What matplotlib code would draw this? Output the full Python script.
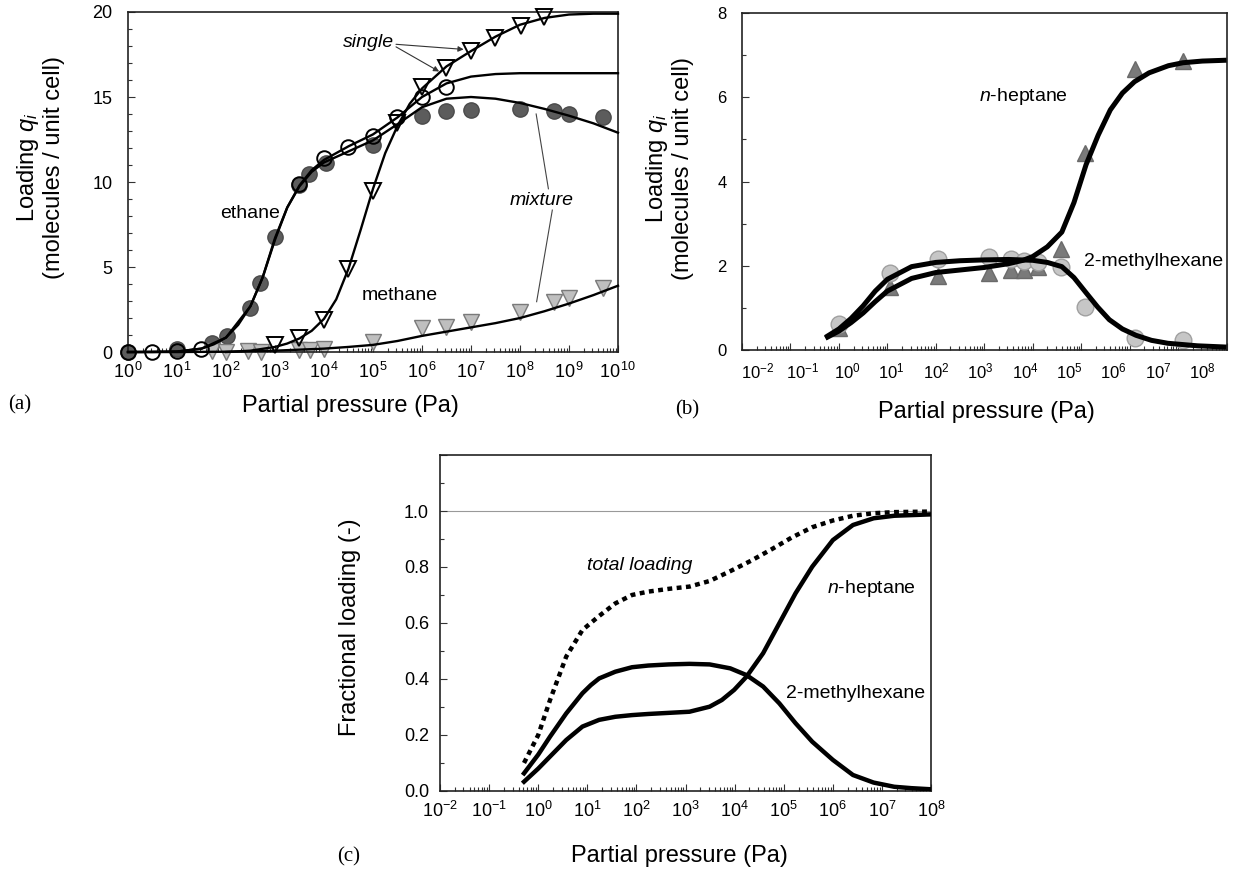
import numpy as np
import matplotlib
matplotlib.use('Agg')
import matplotlib.pyplot as plt
import matplotlib.transforms as mtransforms
from matplotlib.ticker import LogLocator, NullFormatter, FuncFormatter, MultipleLocator

plt.rcParams['font.family'] = ['Liberation Sans', 'DejaVu Sans']
plt.rcParams['mathtext.fontset'] = 'custom'
plt.rcParams['mathtext.rm'] = 'Liberation Sans'
plt.rcParams['mathtext.it'] = 'Liberation Sans:italic'
plt.rcParams['mathtext.bf'] = 'Liberation Sans:bold'

# ---------------- Panel (a): ethane / methane (log10 of pressure in Pa) ----------------
eth_single_logp = [0, 0.5, 1.0, 1.48, 3.48, 4.0, 4.48, 5.0, 5.48, 6.0, 6.48]
eth_single_q = [0, 0, 0.05, 0.2, 9.9, 11.4, 12.05, 12.7, 13.8, 15.0, 15.6]
eth_mix_logp = [0, 1.0, 1.71, 2.02, 2.5, 2.7, 3.0, 3.48, 3.7, 4.05, 5.0, 6.0, 6.5, 7.0, 8.0, 8.7, 9.0, 9.7]
eth_mix_q = [0, 0.15, 0.55, 0.95, 2.6, 4.05, 6.75, 9.8, 10.5, 11.1, 12.2, 13.9, 14.2, 14.25, 14.3, 14.15, 14.0, 13.85]
meth_single_logp = [3.0, 3.48, 4.0, 4.48, 5.0, 5.48, 6.0, 6.48, 7.0, 7.48, 8.02, 8.5]
meth_single_q = [0.4, 0.8, 1.9, 4.9, 9.5, 13.5, 15.6, 16.7, 17.7, 18.45, 19.2, 19.7]
meth_mix_logp = [1.71, 2.0, 2.45, 2.71, 3.48, 3.71, 4.0, 5.0, 6.0, 6.5, 7.0, 8.0, 8.7, 9.0, 9.7]
meth_mix_q = [0.05, 0.0, 0.05, 0.0, 0.1, 0.1, 0.15, 0.6, 1.4, 1.5, 1.75, 2.35, 2.95, 3.15, 3.75]

eth_single_curve_logp = [0, 0.5, 1, 1.5, 1.75, 2, 2.25, 2.5, 2.75, 3, 3.25, 3.5, 3.75, 4, 4.5, 5, 5.5, 6, 6.5, 7, 7.5, 8, 9, 10]
eth_single_curve_q = [0, 0, 0.03, 0.2, 0.45, 0.85, 1.6, 2.7, 4.4, 6.7, 8.5, 9.8, 10.7, 11.3, 12.1, 12.8, 13.8, 15.0, 15.8, 16.2, 16.35, 16.4, 16.4, 16.4]
eth_mix_curve_logp = [0, 1, 1.5, 2, 2.5, 2.75, 3, 3.25, 3.5, 3.75, 4, 4.5, 5, 5.5, 6, 6.5, 7, 7.5, 8, 8.5, 9, 9.5, 10]
eth_mix_curve_q = [0, 0.03, 0.2, 0.85, 2.7, 4.4, 6.6, 8.5, 9.75, 10.6, 11.15, 11.8, 12.45, 13.4, 14.4, 14.9, 15.0, 14.9, 14.65, 14.3, 13.9, 13.45, 12.9]
meth_single_curve_logp = [2, 2.5, 3, 3.25, 3.5, 3.75, 4, 4.25, 4.5, 4.75, 5, 5.25, 5.5, 5.75, 6, 6.5, 7, 7.5, 8, 8.5, 9, 9.5, 10]
meth_single_curve_q = [0, 0.08, 0.3, 0.5, 0.8, 1.25, 1.95, 3.1, 4.9, 7.2, 9.6, 11.7, 13.3, 14.6, 15.5, 16.8, 17.7, 18.55, 19.25, 19.65, 19.85, 19.9, 19.9]
meth_mix_curve_logp = [0, 1, 2, 3, 4, 4.5, 5, 5.5, 6, 6.5, 7, 7.5, 8, 8.5, 9, 9.5, 10]
meth_mix_curve_q = [0, 0.0, 0.02, 0.08, 0.2, 0.3, 0.42, 0.65, 0.95, 1.2, 1.45, 1.7, 2.0, 2.4, 2.85, 3.35, 3.9]

# ---------------- Panel (b): n-heptane / 2-methylhexane loadings ----------------
nhep_logp = [0.0, 1.05, 2.05, 3.1, 3.55, 3.82, 4.1, 4.58, 5.08, 6.1, 7.1]
nhep_q = [0.52, 1.5, 1.76, 1.83, 1.9, 1.9, 1.98, 2.4, 4.68, 6.67, 6.87]
mh_logp = [0.0, 1.05, 2.05, 3.1, 3.55, 3.82, 4.1, 4.58, 5.08, 6.1, 7.1]
mh_q = [0.62, 1.83, 2.15, 2.2, 2.15, 2.12, 2.09, 1.98, 1.03, 0.28, 0.25]

nhep_curve_logp = [-0.28, 0, 0.25, 0.5, 0.75, 1, 1.5, 2, 2.5, 3, 3.5, 3.8, 4, 4.3, 4.6, 4.85, 5.1, 5.35, 5.6, 5.85, 6.1, 6.4, 6.8, 7.1, 7.5, 8]
nhep_curve_q = [0.28, 0.45, 0.65, 0.88, 1.15, 1.4, 1.7, 1.84, 1.9, 1.96, 2.05, 2.13, 2.22, 2.45, 2.8, 3.5, 4.4, 5.1, 5.7, 6.1, 6.37, 6.58, 6.75, 6.82, 6.86, 6.88]
mh_curve_logp = [-0.28, 0, 0.25, 0.5, 0.75, 1, 1.5, 2, 2.5, 3, 3.5, 4, 4.3, 4.6, 4.85, 5.1, 5.34, 5.58, 5.85, 6.13, 6.45, 6.79, 7.4, 8]
mh_curve_q = [0.3, 0.5, 0.75, 1.05, 1.4, 1.68, 1.98, 2.08, 2.12, 2.14, 2.15, 2.13, 2.08, 1.98, 1.72, 1.36, 1.02, 0.72, 0.5, 0.35, 0.23, 0.16, 0.1, 0.07]
# decade labels of panel (b) as printed (slightly compressed against the tick marks)
b_label_exp = [-2, -1, 0, 1, 2, 3, 4, 5, 6, 7, 8]
b_label_logp = [-1.67, -0.75, 0.17, 1.08, 2.0, 2.92, 3.84, 4.75, 5.67, 6.59, 7.5]

# ---------------- Panel (c): fractional loadings ----------------
tot_logp = [-0.29, 0.0, 0.24, 0.57, 0.9, 1.24, 1.57, 1.91, 2.24, 2.66, 3.08, 3.49, 3.91, 4.33, 4.74, 5.16, 5.58, 6.0, 6.41, 6.83, 7.25, 8.0]
tot_f = [0.10, 0.20, 0.325, 0.48, 0.575, 0.625, 0.67, 0.70, 0.712, 0.722, 0.73, 0.75, 0.785, 0.822, 0.862, 0.905, 0.942, 0.966, 0.983, 0.992, 0.996, 0.998]
mh_c_logp = [-0.29, 0.0, 0.24, 0.57, 0.9, 1.07, 1.24, 1.57, 1.91, 2.24, 2.66, 3.08, 3.49, 3.91, 4.24, 4.58, 4.91, 5.24, 5.58, 6.0, 6.41, 6.83, 7.25, 7.6, 8.0]
mh_c_f = [0.063, 0.13, 0.194, 0.277, 0.349, 0.378, 0.402, 0.426, 0.442, 0.448, 0.452, 0.454, 0.452, 0.438, 0.414, 0.373, 0.313, 0.242, 0.176, 0.111, 0.057, 0.030, 0.015, 0.01, 0.006]
nh_c_logp = [-0.29, 0.0, 0.24, 0.57, 0.9, 1.24, 1.57, 1.91, 2.24, 2.66, 3.08, 3.49, 3.74, 3.99, 4.24, 4.58, 4.91, 5.24, 5.58, 6.0, 6.41, 6.83, 7.25, 8.0]
nh_c_f = [0.033, 0.08, 0.123, 0.182, 0.23, 0.254, 0.265, 0.271, 0.275, 0.279, 0.283, 0.301, 0.325, 0.361, 0.408, 0.492, 0.599, 0.706, 0.801, 0.896, 0.95, 0.974, 0.983, 0.988]


def P(lp):
    return 10.0 ** np.asarray(lp, dtype=float)


fig = plt.figure(figsize=(12.33, 8.69), dpi=100)
axA = fig.add_axes([0.1038, 0.5949, 0.3974, 0.3913])
axB = fig.add_axes([0.6018, 0.5972, 0.3930, 0.3878])
axC = fig.add_axes([0.3569, 0.0898, 0.3982, 0.3866])


def style_axes(ax, xmin, xmax, fmt, tick_fs, xpad, ypad):
    ax.set_xscale('log')
    ax.set_xlim(xmin, xmax)
    ax.xaxis.set_major_locator(LogLocator(base=10, numticks=30))
    ax.xaxis.set_minor_locator(LogLocator(base=10, subs=np.arange(2, 10), numticks=300))
    ax.xaxis.set_minor_formatter(NullFormatter())
    if fmt is None:
        ax.xaxis.set_major_formatter(NullFormatter())
    else:
        ax.xaxis.set_major_formatter(FuncFormatter(lambda v, p: fmt % int(round(np.log10(v)))))
    for s in ax.spines.values():
        s.set_linewidth(1.2)
        s.set_color('#222222')
    ax.tick_params(which='both', direction='in', top=False, right=False, width=0.8, color='#333333')
    ax.tick_params(which='major', length=5)
    ax.tick_params(which='minor', length=3)
    ax.tick_params(axis='x', which='major', labelsize=tick_fs, pad=xpad)
    ax.tick_params(axis='y', which='major', labelsize=tick_fs, pad=ypad)


# ---------------- (a) ----------------
style_axes(axA, 1, 1e10, r'$10^{\,%d}$', 13, 7, 11)
axA.set_ylim(0, 20)
axA.yaxis.set_major_locator(MultipleLocator(5))
axA.yaxis.set_minor_locator(MultipleLocator(1))

axA.plot(P(eth_mix_logp), eth_mix_q, 'o', ms=11, mfc='#5c5c5c', mec='#4a4a4a', mew=1, zorder=2, clip_on=False)
axA.plot(P(meth_mix_logp), meth_mix_q, 'v', ms=11, mfc='#bfbfbf', mec='#7a7a7a', mew=1, zorder=2, clip_on=False)
for lp, q in [(eth_single_curve_logp, eth_single_curve_q), (eth_mix_curve_logp, eth_mix_curve_q),
              (meth_single_curve_logp, meth_single_curve_q), (meth_mix_curve_logp, meth_mix_curve_q)]:
    axA.plot(P(lp), q, '-', color='black', lw=1.7, zorder=3, clip_on=False)
axA.plot(P(eth_single_logp), eth_single_q, 'o', ms=10.5, mfc='none', mec='black', mew=1.4, zorder=4, clip_on=False)
axA.plot(P(meth_single_logp), meth_single_q, 'v', ms=11, mfc='none', mec='black', mew=1.4, zorder=4, clip_on=False)

axA.text(10**4.9, 18.2, 'single', style='italic', fontsize=14, ha='center', va='center')
arr = dict(arrowstyle='-|>', lw=0.8, color='#333333', mutation_scale=8, shrinkA=0, shrinkB=0)
axA.annotate('', xy=(10**6.85, 17.8), xytext=(10**5.47, 18.1), arrowprops=arr)
axA.annotate('', xy=(10**6.35, 16.5), xytext=(10**5.47, 17.95), arrowprops=arr)
axA.text(10**2.5, 8.15, 'ethane', fontsize=14, ha='center', va='center')
axA.text(10**5.55, 3.35, 'methane', fontsize=14, ha='center', va='center')
axA.text(10**8.45, 8.9, 'mixture', style='italic', fontsize=14, ha='center', va='center')
axA.plot([10**8.58, 10**8.33], [9.6, 14.0], '-', color='#444444', lw=0.8)
axA.plot([10**8.66, 10**8.34], [8.35, 2.96], '-', color='#444444', lw=0.8)

axA.set_xlabel('Partial pressure (Pa)', fontsize=17)
axA.set_ylabel('Loading $q_i$\n(molecules / unit cell)', fontsize=17, linespacing=1.1)
axA.xaxis.set_label_coords(0.453, -0.125)
axA.yaxis.set_label_coords(-0.129, 0.544)

# ---------------- (b) ----------------
style_axes(axB, 1e-2, 1e8, None, 12, 7, 11)
axB.set_ylim(0, 8)
axB.yaxis.set_major_locator(MultipleLocator(2))
axB.yaxis.set_minor_locator(MultipleLocator(1))
btrans = mtransforms.blended_transform_factory(axB.transData, axB.transAxes)
for e, lp in zip(b_label_exp, b_label_logp):
    axB.text(10**lp, -0.035, r'$10^{%d}$' % e, transform=btrans, fontsize=12, ha='center', va='top')
axB.plot(P(nhep_logp), nhep_q, '^', ms=12, mfc='#7a7a7a', mec='#6a6a6a', mew=1, zorder=2)
axB.plot(P(mh_logp), mh_q, 'o', ms=12, mfc='#c6c6c6', mec='#a0a0a0', mew=1, zorder=2)
axB.plot(P(nhep_curve_logp), nhep_curve_q, '-', color='black', lw=3.6, zorder=3, solid_capstyle='butt')
axB.plot(P(mh_curve_logp), mh_curve_q, '-', color='black', lw=3.6, zorder=3, solid_capstyle='butt')
axB.text(10**3.81, 6.03, '$n$-heptane', fontsize=14, ha='center', va='center')
axB.text(10**5.06, 2.1, '2-methylhexane', fontsize=14, ha='left', va='center')
axB.set_xlabel('Partial pressure (Pa)', fontsize=17)
axB.set_ylabel('Loading $q_i$\n(molecules / unit cell)', fontsize=17, linespacing=1.1)
axB.xaxis.set_label_coords(0.505, -0.15)
axB.yaxis.set_label_coords(-0.10, 0.54)

# ---------------- (c) ----------------
style_axes(axC, 1e-2, 1e8, r'$10^{%d}$', 13, 7, 8)
axC.set_ylim(0, 1.2)
axC.yaxis.set_major_locator(MultipleLocator(0.2))
axC.yaxis.set_minor_locator(MultipleLocator(0.1))
axC.yaxis.set_major_formatter(FuncFormatter(lambda v, p: '%.1f' % v if v < 1.1 else ''))
axC.axhline(1.0, color='#999999', lw=0.8, zorder=1)
axC.plot(P(tot_logp), tot_f, color='black', lw=3.2, linestyle=(0, (1.1, 1.0)), zorder=3)
axC.plot(P(mh_c_logp), mh_c_f, '-', color='black', lw=3.2, zorder=3)
axC.plot(P(nh_c_logp), nh_c_f, '-', color='black', lw=3.2, zorder=3)
axC.text(10**2.06, 0.807, 'total loading', style='italic', fontsize=14, ha='center', va='center')
axC.text(10**6.79, 0.724, '$n$-heptane', fontsize=14, ha='center', va='center')
axC.text(10**6.47, 0.349, '2-methylhexane', fontsize=14, ha='center', va='center')
axC.set_xlabel('Partial pressure (Pa)', fontsize=17)
axC.set_ylabel('Fractional loading (-)', fontsize=17)
axC.xaxis.set_label_coords(0.487, -0.16)
axC.yaxis.set_label_coords(-0.161, 0.488)

# panel letters
fig.text(0.016, 0.534, '(a)', fontsize=15, family='Liberation Serif', ha='center', va='center')
fig.text(0.557, 0.528, '(b)', fontsize=15, family='Liberation Serif', ha='center', va='center')
fig.text(0.283, 0.014, '(c)', fontsize=15, family='Liberation Serif', ha='center', va='center')

fig.savefig('out.png', dpi=100)
